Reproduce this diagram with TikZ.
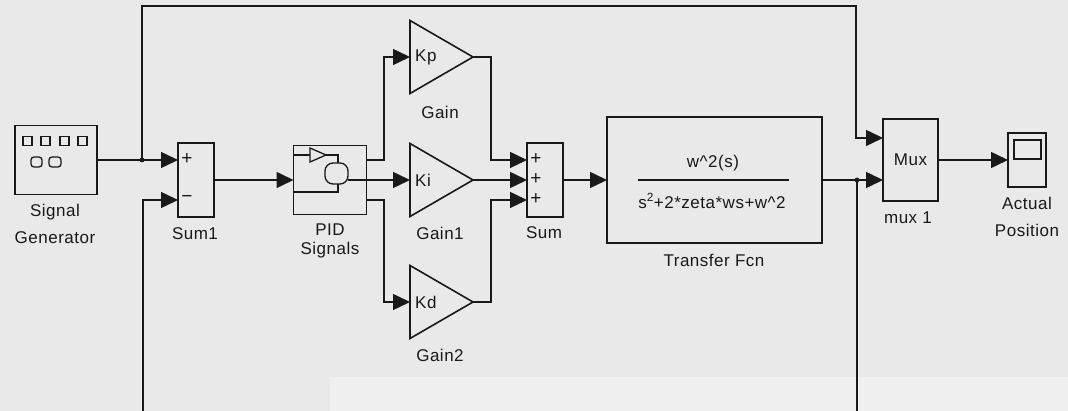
\documentclass[tikz,border=0pt]{standalone}
\usepackage{fontspec}
\setmainfont[LetterSpace=3]{Liberation Sans}
\usetikzlibrary{arrows.meta,calc}
\definecolor{bg}{RGB}{233,233,233}
\definecolor{bglight}{RGB}{240,240,240}
\definecolor{ink}{RGB}{25,25,25}
\begin{document}
\begin{tikzpicture}[x=1pt,y=-1pt,
  blk/.style={draw=ink, line width=1.9pt, inner sep=0pt, outer sep=0pt},
  gbox/.style={inner sep=0pt, outer sep=0pt, minimum width=63pt, minimum height=73pt},
  tri/.style={draw=ink, line width=1.6pt, line join=miter},
  sig/.style={draw=ink, line width=1.5pt, -{Triangle[length=17pt,width=16pt]}},
  wire/.style={draw=ink, line width=1.4pt},
  thin/.style={draw=ink, line width=1.3pt},
  lab/.style={font=\fontsize{17}{20}\selectfont, text=ink, inner sep=0pt},
  sgn/.style={font=\fontsize{19}{20}\selectfont, text=ink, inner sep=0pt}]
\fill[bg] (0,0) rectangle (1068,411);
\fill[bglight] (330,377) rectangle (1068,411);
\useasboundingbox (0,0) rectangle (1068,411);

% blocks
\node[blk, minimum width=82pt, minimum height=69pt] (sg) at (56,160) {};
\node[blk, minimum width=36pt, minimum height=74pt] (sum1) at (196,180) {};
\node[blk, minimum width=73pt, minimum height=69pt] (pid) at (330,180) {};
\node[gbox] (kp) at (441.5,57) {};
\node[gbox] (ki) at (441.5,180) {};
\node[gbox] (kd) at (441.5,302) {};
\node[blk, minimum width=36pt, minimum height=74pt] (sum) at (545,180) {};
\node[blk, minimum width=215pt, minimum height=126pt] (tf) at (714.5,180) {};
\node[blk, minimum width=55pt, minimum height=82pt] (mux) at (910.5,160) {};
\node[blk, minimum width=38pt, minimum height=54pt] (scope) at (1027,160) {};

% gain triangles
\foreach \g in {kp,ki,kd}
  \draw[tri] (\g.north west) -- (\g.east) -- (\g.south west) -- cycle;
\node[lab, anchor=west] at ([xshift=5pt]kp.west) {Kp};
\node[lab, anchor=west] at ([xshift=5pt]ki.west) {Ki};
\node[lab, anchor=west] at ([xshift=5pt]kd.west) {Kd};

% signal generator icon
\foreach \x in {23,41,60,78}
  \draw[thin] (\x,136.5) rectangle (\x+9,145.5);
\draw[thin, rounded corners=3pt] (31,157) rectangle (42,167);
\draw[thin, rounded corners=3pt] (49,157) rectangle (61,167);

% PID icon
\draw[thin] (293.5,155) -- (310,155);
\draw[thin] (310,148) -- (326,155) -- (310,162) -- cycle;
\draw[thin] (326,155) -- (338,155) -- (338,163);
\draw[thin, rounded corners=8pt] (325,163) rectangle (348,184);
\draw[thin] (293.5,192) -- (338,192) -- (338,184);
\draw[thin] (348,180) -- (pid.east);

% scope icon
\draw[thin] (1014,140) rectangle (1041,159);

% transfer function text
\node[lab] (num) at (713,163) {w\textasciicircum 2(s)};
\draw[wire] (638,180) -- (789,180);
\node[lab] (den) at (712,201) {s\textsuperscript{2}+2*zeta*ws+w\textasciicircum 2};

% signs
\node[sgn] at (187,159) {+};
\node[sgn] at (187,199) {−};
\node[sgn] at (536,159) {+};
\node[sgn] at (536,179) {+};
\node[sgn] at (536,199) {+};
\node[lab] at (mux.center) {Mux};

% labels
\node[lab] at (55,212) {Signal};
\node[lab] at (55,238) {Generator};
\node[lab] at (195,234) {Sum1};
\node[lab] at (330,230) {PID};
\node[lab] at (330,250) {Signals};
\node[lab] at (440,112) {Gain};
\node[lab] at (440,233) {Gain1};
\node[lab] at (440,355) {Gain2};
\node[lab] at (544,233) {Sum};
\node[lab] at (714,260) {Transfer Fcn};
\node[lab] at (908,218) {mux 1};
\node[lab] at (1027,203) {Actual};
\node[lab] at (1027,230) {Position};

% ports
\coordinate (s1p) at (sum1.west |- sg.east);
\coordinate (s1m) at ($(sum1.west)+(0,20)$);
\coordinate (pido1) at ($(pid.east)+(0,-20)$);
\coordinate (pido3) at ($(pid.east)+(0,20)$);
\coordinate (sumi1) at ($(sum.west)+(0,-20)$);
\coordinate (sumi3) at ($(sum.west)+(0,20)$);
\coordinate (muxi1) at ($(mux.west)+(0,-22)$);
\coordinate (muxi2) at ($(mux.west)+(0,20)$);
\coordinate (b1) at (142,160);
\coordinate (b2) at (857,180);
\coordinate (topr) at (856,6);
\coordinate (botl) at (143,430);

% connectors
\draw[sig] (sg.east) -- (s1p);
\draw[sig] (b1) |- (topr) |- (muxi1);
\draw[sig] (sum1.east) -- (pid.west);
\draw[sig] (pido1) -- ++(17.5,0) |- (kp.west);
\draw[sig] (pid.east) -- (ki.west);
\draw[sig] (pido3) -- ++(17.5,0) |- (kd.west);
\draw[sig] (kp.east) -- ++(18,0) |- (sumi1);
\draw[sig] (ki.east) -- (sum.west);
\draw[sig] (kd.east) -- ++(18,0) |- (sumi3);
\draw[sig] (sum.east) -- (tf.west);
\draw[sig] (tf.east) -- (muxi2);
\draw[sig] (b2) |- (botl) |- (s1m);
\draw[sig] (mux.east) -- (scope.west);
\fill[ink] (b1) circle (2.4pt);
\fill[ink] (b2) circle (2.4pt);
\end{tikzpicture}
\end{document}
